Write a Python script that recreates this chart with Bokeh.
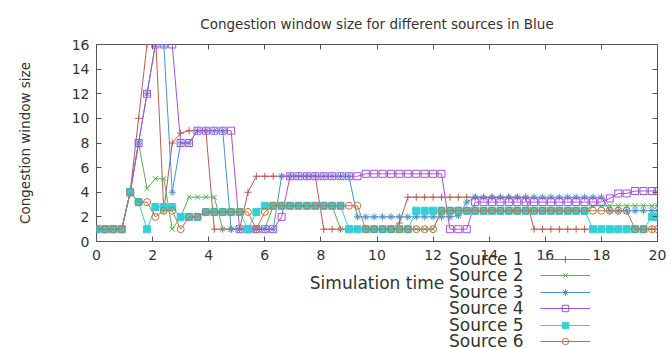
from bokeh.plotting import figure
from bokeh.layouts import column
from bokeh.models import LinearAxis, Range1d, Legend, LegendItem, FixedTicker
from bokeh.embed import file_html
from bokeh.resources import INLINE

# Simulation time (s) at which each source's window was sampled
time_s = [0.0, 0.3, 0.6, 0.9, 1.2, 1.5, 1.8, 2.1, 2.4, 2.7,
          3.0, 3.3, 3.6, 3.9, 4.2, 4.5, 4.8, 5.1, 5.4, 5.7,
          6.0, 6.3, 6.6, 6.9, 7.2, 7.5, 7.8, 8.1, 8.4, 8.7,
          9.0, 9.3, 9.6, 9.9, 10.2, 10.5, 10.8, 11.1, 11.4, 11.7,
          12.0, 12.3, 12.6, 12.9, 13.2, 13.5, 13.8, 14.1, 14.4, 14.7,
          15.0, 15.3, 15.6, 15.9, 16.2, 16.5, 16.8, 17.1, 17.4, 17.7,
          18.0, 18.3, 18.6, 18.9, 19.2, 19.5, 19.8, 20.0]

# Congestion window size of each source
source1 = [1, 1, 1, 1, 4, 10, 16, 17, 2.5, 8,
           8.8, 9, 9, 9, 1, 1, 1, 1, 4, 5.3,
           5.3, 5.3, 5.3, 5.3, 5.3, 5.3, 5.3, 1, 1, 1,
           1, 1, 1, 1, 1, 1, 1.5, 3.6, 3.6, 3.6,
           3.6, 3.6, 3.6, 3.6, 3.6, 3.6, 3.6, 3.6, 3.6, 3.6,
           3.6, 3.6, 1, 1, 1, 1, 1, 1, 1, 1,
           1, 1, 1, 1, 1, 1, 1, 1]
source2 = [1, 1, 1, 1, 4, 8, 4.3, 5.1, 5.1, 1,
           2, 3.6, 3.6, 3.6, 3.6, 1, 1, 1, 1, 1,
           1, 2.9, 2.9, 2.9, 2.9, 2.9, 2.9, 2.9, 2.9, 1,
           1, 1, 1, 1, 1, 1, 1, 1, 1, 1,
           1, 2.5, 2.5, 2.5, 2.5, 2.5, 2.5, 2.5, 2.5, 2.5,
           2.5, 2.5, 2.5, 2.5, 2.5, 2.5, 2.5, 2.5, 2.5, 2.9,
           2.9, 2.9, 2.9, 2.9, 2.9, 2.9, 2.9, 2.9]
source3 = [1, 1, 1, 1, 4, 8, 12, 16, 16, 4,
           8, 8, 9, 9, 9, 9, 1, 1, 1, 1,
           1, 1, 5.3, 5.3, 5.3, 5.3, 5.3, 5.3, 5.3, 5.3,
           5.3, 2, 2, 2, 2, 2, 2, 2, 2, 2,
           2, 2, 2, 2.1, 3.2, 3.6, 3.6, 3.6, 3.6, 3.6,
           3.6, 3.6, 3.6, 3.6, 3.6, 3.6, 3.6, 3.6, 3.6, 3.6,
           3.6, 2.5, 2.5, 2.5, 2.5, 2.5, 2.5, 2.5]
source4 = [1, 1, 1, 1, 4, 8, 12, 16, 16, 16,
           8, 8, 9, 9, 9, 9, 9, 1, 1, 1,
           1, 1, 2, 5.3, 5.3, 5.3, 5.3, 5.3, 5.3, 5.3,
           5.3, 5.3, 5.5, 5.5, 5.5, 5.5, 5.5, 5.5, 5.5, 5.5,
           5.5, 5.5, 1, 1, 1, 3.2, 3.2, 3.2, 3.2, 3.2,
           3.2, 3.2, 3.2, 3.2, 3.2, 3.2, 3.2, 3.2, 3.2, 3.2,
           3.2, 3.5, 3.9, 3.9, 4.1, 4.1, 4.1, 4.1]
source5 = [1, 1, 1, 1, 4, 3.2, 1, 2.8, 2.8, 2.8,
           2, 2, 2, 2.4, 2.4, 2.4, 2.4, 2.4, 1, 2.4,
           2.9, 2.9, 2.9, 2.9, 2.9, 2.9, 2.9, 2.9, 2.9, 2.9,
           1, 1, 1, 1, 1, 1, 1, 1, 2.5, 2.5,
           2.5, 2.5, 2.5, 2.5, 2.5, 2.5, 2.5, 2.5, 2.5, 2.5,
           2.5, 2.5, 2.5, 2.5, 2.5, 2.5, 2.5, 2.5, 2.5, 1,
           1, 1, 1, 1, 1, 1, 2, 2]
source6 = [1, 1, 1, 1, 4, 3.2, 3.2, 2, 2.5, 2.5,
           1, 2, 2, 2.4, 2.4, 2.4, 2.4, 2.4, 2.4, 1,
           2.4, 2.9, 2.9, 2.9, 2.9, 2.9, 2.9, 2.9, 2.9, 2.9,
           2.9, 2.9, 1, 1, 1, 1, 1, 1, 1, 1,
           1, 2.5, 2.5, 2.5, 2.5, 2.5, 2.5, 2.5, 2.5, 2.5,
           2.5, 2.5, 2.5, 2.5, 2.5, 2.5, 2.5, 2.5, 2.5, 2.5,
           2.5, 2.5, 2.5, 2.5, 1, 1, 1, 1]

series_names = ["Source 1", "Source 2", "Source 3", "Source 4", "Source 5", "Source 6"]
series_values = [source1, source2, source3, source4, source5, source6]
x_ticks = [0, 2, 4, 6, 8, 10, 12, 14, 16, 18, 20]
y_ticks = [0, 2, 4, 6, 8, 10, 12, 14, 16]

colors = ["#bb5a52", "#55b055", "#4890d0", "#a550dc", "#33d0d6", "#c07444"]
markers = ["cross", "x", "asterisk", "square", "square", "circle"]
filled = [False, False, False, False, True, False]

FONT = "DejaVu Sans"
TEXT = "#333333"
FRAME = "#555555"

p = figure(width=667, height=348, output_backend="svg", toolbar_location=None,
           x_range=Range1d(0, 20), y_range=Range1d(0, 16),
           min_border_left=96, min_border_right=10,
           min_border_top=44, min_border_bottom=107,
           title="Congestion window size for different sources in Blue")
p.title.align = "center"
p.title.text_font = FONT
p.title.text_font_size = "13.5px"
p.title.text_font_style = "normal"
p.title.text_color = TEXT
p.title.standoff = 26

p.grid.visible = False
p.outline_line_color = FRAME
p.outline_line_width = 1
p.background_fill_color = "white"
p.border_fill_color = "white"

bottom_axis = p.below[0]
left_axis = p.left[0]
bottom_axis.ticker = FixedTicker(ticks=x_ticks)
bottom_axis.axis_label = "Simulation time"
left_axis.ticker = FixedTicker(ticks=y_ticks)
left_axis.axis_label = "Congestion window size"

# mirrored tick marks on the top and right edges
top_axis = LinearAxis(ticker=FixedTicker(ticks=x_ticks), major_label_text_font_size="0px")
right_axis = LinearAxis(ticker=FixedTicker(ticks=y_ticks), major_label_text_font_size="0px")
p.add_layout(top_axis, "above")
p.add_layout(right_axis, "right")

for ax in (bottom_axis, left_axis, top_axis, right_axis):
    ax.axis_line_color = None
    ax.major_tick_in = 5
    ax.major_tick_out = 0
    ax.minor_tick_line_color = None
    ax.major_tick_line_color = FRAME
    ax.major_label_text_font = FONT
    ax.major_label_text_color = TEXT
    ax.axis_label_text_font = FONT
    ax.axis_label_text_font_style = "normal"
    ax.axis_label_text_color = TEXT
for ax in (bottom_axis, left_axis):
    ax.major_label_text_font_size = "14px"
bottom_axis.major_label_standoff = 8
bottom_axis.axis_label_text_font_size = "17px"
bottom_axis.axis_label_standoff = 10
left_axis.major_label_standoff = 7
left_axis.axis_label_text_font_size = "13.5px"
left_axis.axis_label_standoff = 36

for vals, col, mk, fill in zip(series_values, colors, markers, filled):
    p.line(time_s, vals, line_color=col, line_width=1)
    p.scatter(time_s, vals, marker=mk, size=7, line_color=col, line_width=1,
              fill_color=col if fill else None)

# Key: a transparent strip laid over the lower right of the chart, one
# row per source, with the name followed by a line + marker sample.
# The strip's own ranges sit above the data, so its renderers only
# show up as key samples.  (The column lines its frame up with the
# chart's frame, 96 px in.)
KEY_H = 110
key = figure(width=323, height=KEY_H, output_backend="svg", toolbar_location=None,
             x_range=Range1d(0, 20), y_range=Range1d(100, 101),
             x_axis_type=None, y_axis_type=None,
             min_border_left=0, min_border_right=0,
             min_border_top=0, min_border_bottom=0,
             outline_line_color=None, background_fill_alpha=0, border_fill_alpha=0)
key.grid.visible = False
key.margin = (-KEY_H, 0, 0, 344)

blank = key.line(time_s, source1, line_alpha=0)
NAME_H = 24           # height of a name entry box
SAMPLE_H = 16         # height of a sample entry box (sets the marker size)
ROW_PITCH = 16.4      # distance between entries
FIRST_ROW = 89        # centre of the first entry above the strip's bottom edge
common = dict(orientation="vertical", label_text_font=FONT, label_text_color=TEXT,
              spacing=0, padding=0, margin=0,
              border_line_color=None, background_fill_alpha=0)
for k, (name, vals, col, mk, fill) in enumerate(zip(series_names, series_values,
                                                      colors, markers, filled)):
    ln = key.line(time_s, vals, line_color=col, line_width=1)
    sc = key.scatter(time_s, vals, marker=mk, size=7, line_color=col, line_width=1,
                     fill_color=col if fill else None)
    centre = FIRST_ROW - ROW_PITCH * k
    key.add_layout(Legend(items=[LegendItem(label=name, renderers=[blank])],
                          location=(9, centre - NAME_H / 2), glyph_width=0,
                          glyph_height=NAME_H, label_height=NAME_H,
                          label_text_font_size="17px", label_standoff=0, **common))
    key.add_layout(Legend(items=[LegendItem(label=name, renderers=[ln, sc])],
                          location=(100, centre - SAMPLE_H / 2), glyph_width=50,
                          glyph_height=SAMPLE_H, label_height=SAMPLE_H,
                          label_text_font_size="8px", label_text_alpha=0,
                          label_standoff=0, **common))

layout = column(p, key)
open("out.html", "w").write(file_html(layout, INLINE))
